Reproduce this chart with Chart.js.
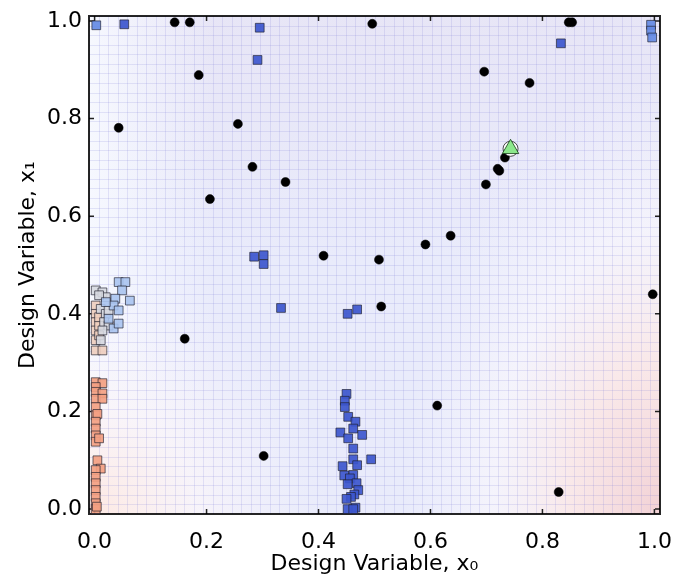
<!DOCTYPE html>
<html>
<head>
<meta charset="utf-8">
<script src="https://cdn.jsdelivr.net/npm/chart.js@4.4.1/dist/chart.umd.min.js"></script>
<style>
  html, body { margin: 0; padding: 0; background: #fff; }
</style>
</head>
<body>
<canvas id="chart" width="673" height="580"></canvas>
<script>
// tick labels (both axes)
const tickValues = [0, 0.2, 0.4, 0.6, 0.8, 1.0];

// sampled designs (black dots)
const sampleX = [0.143, 0.170, 0.496, 0.847, 0.853, 0.186, 0.043, 0.256, 0.282, 0.341, 0.206, 0.696, 0.777,
                 0.733, 0.720, 0.723, 0.699, 0.636, 0.591, 0.508, 0.409, 0.512, 0.997, 0.161, 0.612, 0.302, 0.829];
const sampleY = [0.997, 0.997, 0.994, 0.997, 0.997, 0.889, 0.781, 0.789, 0.701, 0.670, 0.635, 0.896, 0.873,
                 0.720, 0.697, 0.693, 0.665, 0.560, 0.542, 0.511, 0.519, 0.415, 0.440, 0.349, 0.212, 0.109, 0.035];

// best design
const bestX = [0.743];
const bestY = [0.738];

// population squares, grouped by their colour level
const blueX = [0.053, 0.295, 0.291, 0.833, 0.285, 0.302, 0.302, 0.333, 0.452, 0.469,
               0.450, 0.447, 0.447, 0.453, 0.466, 0.462, 0.439, 0.478, 0.453, 0.462, 0.462, 0.494, 0.469,
               0.443, 0.462, 0.446, 0.456, 0.468, 0.452, 0.471, 0.464, 0.458, 0.450, 0.466, 0.452, 0.462];
const blueY = [0.993, 0.986, 0.920, 0.954, 0.517, 0.520, 0.502, 0.412, 0.400, 0.409,
               0.236, 0.222, 0.209, 0.189, 0.179, 0.165, 0.157, 0.152, 0.145, 0.124, 0.102, 0.102, 0.090,
               0.088, 0.070, 0.069, 0.063, 0.053, 0.051, 0.039, 0.030, 0.025, 0.021, 0.003, 0.000, 0.000];

const lightBlueX = [0.003, 0.994, 0.994, 0.996];
const lightBlueY = [0.991, 0.992, 0.980, 0.966];

const paleBlueX = [0.043, 0.055, 0.063, 0.049, 0.037, 0.034, 0.043, 0.034, 0.043, 0.025, 0.020];
const paleBlueY = [0.465, 0.465, 0.427, 0.448, 0.431, 0.417, 0.407, 0.370, 0.380, 0.390, 0.424];

const grayX = [0.002, 0.014, 0.020, 0.008, 0.011, 0.020, 0.025, 0.017, 0.025, 0.014, 0.011];
const grayY = [0.448, 0.444, 0.434, 0.438, 0.410, 0.400, 0.407, 0.383, 0.376, 0.366, 0.346];

const beigeX = [0.002, 0.002, 0.002, 0.002, 0.002, 0.002, 0.014, 0.008, 0.008, 0.008];
const beigeY = [0.417, 0.400, 0.383, 0.366, 0.346, 0.325, 0.325, 0.356, 0.376, 0.393];

const orangeX = [0.002, 0.014, 0.002, 0.002, 0.014, 0.002, 0.014, 0.002, 0.002, 0.005, 0.002, 0.002, 0.002,
                 0.002, 0.008, 0.005, 0.011, 0.002, 0.002, 0.002, 0.002, 0.002, 0.002, 0.002, 0.004];
const orangeY = [0.260, 0.258, 0.250, 0.240, 0.237, 0.226, 0.226, 0.209, 0.192, 0.195, 0.179, 0.165, 0.151,
                 0.138, 0.145, 0.100, 0.083, 0.080, 0.066, 0.053, 0.039, 0.025, 0.012, 0.000, 0.005];

const FONT = 'DejaVu Sans';
const pts = (xs, ys) => xs.map((x, i) => ({ x, y: ys[i] }));

function squares(xs, ys, fill, order) {
    return {
        data: pts(xs, ys),
        pointStyle: 'rect',
        pointRadius: 6.2,
        backgroundColor: fill,
        borderColor: 'rgba(30,30,45,0.65)',
        borderWidth: 1,
        order
    };
}

// shaded response surface, fine mesh, frame and inward ticks
const backdrop = {
    id: 'backdrop',
    beforeDatasetsDraw(chart) {
        const { ctx, chartArea: a, scales: { x, y } } = chart;
        ctx.save();
        ctx.beginPath();
        ctx.rect(a.left, a.top, a.width, a.height);
        ctx.clip();

        ctx.fillStyle = 'rgb(233,235,251)';
        ctx.fillRect(a.left, a.top, a.width, a.height);

        let g = ctx.createLinearGradient(0, a.top, 0, a.top + a.height * 0.5);
        g.addColorStop(0, 'rgba(231,228,245,0.8)');
        g.addColorStop(1, 'rgba(231,228,245,0)');
        ctx.fillStyle = g;
        ctx.fillRect(a.left, a.top, a.width, a.height);

        g = ctx.createLinearGradient(a.left, 0, a.left + a.width * 0.22, 0);
        g.addColorStop(0, 'rgba(247,249,255,0.95)');
        g.addColorStop(1, 'rgba(247,249,255,0)');
        ctx.fillStyle = g;
        ctx.fillRect(a.left, a.top, a.width, a.height);

        g = ctx.createRadialGradient(a.left, a.bottom, 0, a.left, a.bottom, a.width * 0.42);
        g.addColorStop(0, 'rgba(253,232,226,1)');
        g.addColorStop(0.45, 'rgba(250,245,249,0.8)');
        g.addColorStop(1, 'rgba(244,244,253,0)');
        ctx.fillStyle = g;
        ctx.fillRect(a.left, a.top, a.width, a.height);

        ctx.save();
        ctx.translate(a.right, a.bottom);
        ctx.scale(1, 1.7);
        g = ctx.createRadialGradient(0, 0, 0, 0, 0, a.width * 0.45);
        g.addColorStop(0, 'rgba(242,210,214,1)');
        g.addColorStop(0.35, 'rgba(250,232,232,0.95)');
        g.addColorStop(0.65, 'rgba(248,246,252,0.75)');
        g.addColorStop(1, 'rgba(244,244,253,0)');
        ctx.fillStyle = g;
        ctx.fillRect(-a.width, -a.height, a.width, a.height);
        ctx.restore();

        ctx.strokeStyle = 'rgba(120,120,215,0.17)';
        ctx.lineWidth = 1;
        ctx.beginPath();
        for (let i = 0; i <= 60; i++) {
            const px = Math.round(x.getPixelForValue(-0.01 + i * 1.02 / 60)) + 0.5;
            ctx.moveTo(px, a.top);
            ctx.lineTo(px, a.bottom);
        }
        for (let i = 0; i <= 52; i++) {
            const py = Math.round(y.getPixelForValue(-0.01 + i * 1.02 / 52)) + 0.5;
            ctx.moveTo(a.left, py);
            ctx.lineTo(a.right, py);
        }
        ctx.stroke();
        ctx.restore();

        ctx.save();
        ctx.strokeStyle = '#222';
        ctx.lineWidth = 1.5;
        ctx.beginPath();
        tickValues.forEach(v => {
            const px = x.getPixelForValue(v), py = y.getPixelForValue(v);
            ctx.moveTo(px, a.bottom); ctx.lineTo(px, a.bottom - 5);
            ctx.moveTo(px, a.top); ctx.lineTo(px, a.top + 5);
            ctx.moveTo(a.left, py); ctx.lineTo(a.left + 5, py);
            ctx.moveTo(a.right, py); ctx.lineTo(a.right - 5, py);
        });
        ctx.stroke();
        ctx.strokeStyle = 'rgba(0,0,0,0.85)';
        ctx.lineWidth = 2;
        ctx.strokeRect(a.left, a.top, a.width, a.height);
        ctx.restore();
    }
};

const axisCommon = {
    type: 'linear',
    min: -0.01,
    max: 1.01,
    afterBuildTicks: s => { s.ticks = tickValues.map(v => ({ value: v })); },
    grid: { display: false, drawTicks: false },
    border: { display: false }
};

new Chart(document.getElementById('chart'), {
    type: 'scatter',
    data: {
        datasets: [
            { data: pts(bestX, bestY), pointStyle: 'triangle', pointRadius: 9.5, backgroundColor: 'rgb(140,232,140)',
              borderColor: 'rgba(20,60,20,0.8)', borderWidth: 1, order: 0 },
            { data: pts(bestX, bestY), pointStyle: 'circle', pointRadius: 7.5, backgroundColor: '#ffffff',
              borderColor: 'rgba(0,0,0,0.7)', borderWidth: 1, order: 1 },
            { data: pts(sampleX, sampleY), pointStyle: 'circle', pointRadius: 4.5, backgroundColor: '#000',
              borderColor: '#000', borderWidth: 0.5, order: 2 },
            squares(blueX, blueY, 'rgba(60,86,205,0.92)', 3),
            squares(lightBlueX, lightBlueY, 'rgba(100,138,228,0.92)', 4),
            squares(paleBlueX, paleBlueY, 'rgba(170,196,240,0.9)', 5),
            squares(grayX, grayY, 'rgba(214,216,224,0.9)', 6),
            squares(beigeX, beigeY, 'rgba(238,206,190,0.9)', 7),
            squares(orangeX, orangeY, 'rgba(243,160,130,0.92)', 8)
        ]
    },
    options: {
        responsive: false,
        animation: false,
        clip: false,
        layout: { padding: { left: 0, top: 16, right: 13, bottom: 0 } },
        plugins: { legend: { display: false }, tooltip: { enabled: false } },
        scales: {
            x: {
                ...axisCommon,
                afterFit: s => { s.height = 66; s.paddingLeft = 0; s.paddingRight = 0; },
                ticks: { font: { family: FONT, size: 22, lineHeight: 1 }, color: '#000', padding: 17, maxRotation: 0,
                         autoSkip: false, callback: v => v.toFixed(1) },
                title: { display: true, text: 'Design Variable, x₀', color: '#000',
                         font: { family: FONT, size: 22, lineHeight: 1 }, padding: { top: 0, bottom: 5 } }
            },
            y: {
                ...axisCommon,
                afterFit: s => { s.width = 89; s.paddingTop = 0; s.paddingBottom = 0; },
                ticks: { font: { family: FONT, size: 22, lineHeight: 1 }, color: '#000', padding: 7, autoSkip: false,
                         callback: v => v.toFixed(1) },
                title: { display: true, text: 'Design Variable, x₁', color: '#000',
                         font: { family: FONT, size: 22, lineHeight: 1 }, padding: { top: 17, bottom: 0 } }
            }
        }
    },
    plugins: [backdrop]
});
</script>
</body>
</html>
